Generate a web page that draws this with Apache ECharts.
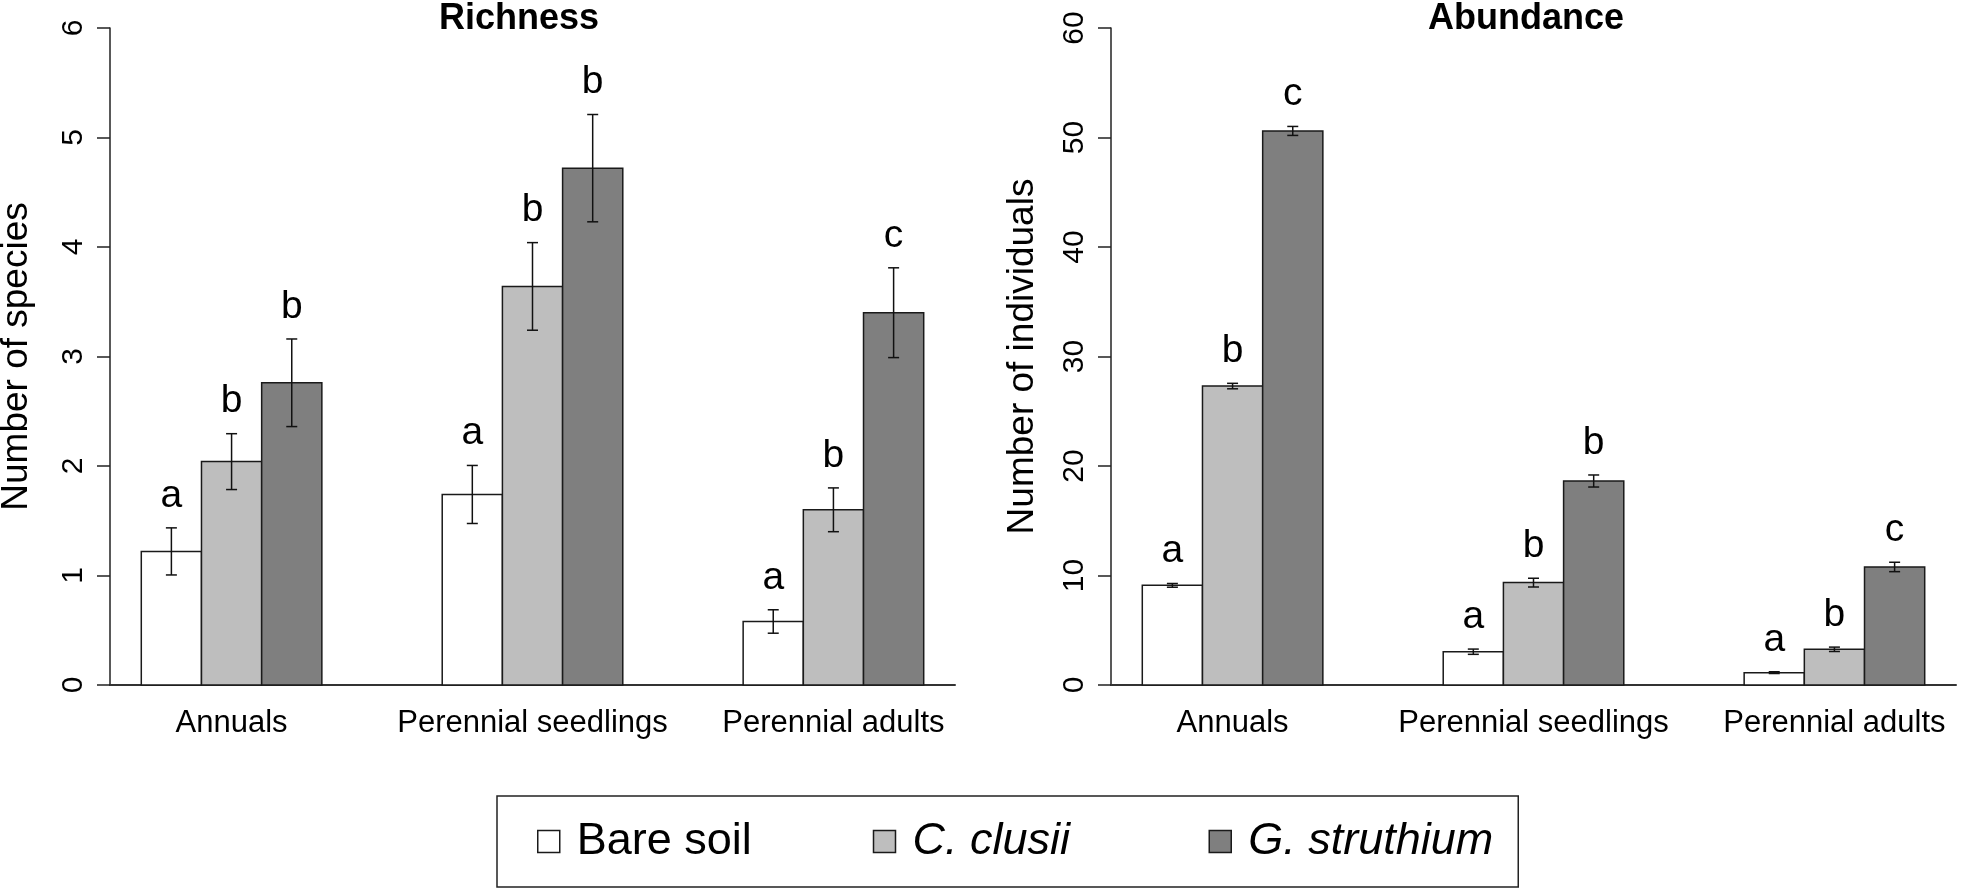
<!DOCTYPE html>
<html>
<head>
<meta charset="utf-8">
<script src="https://cdn.jsdelivr.net/npm/echarts@6/dist/echarts.min.js"></script>
<style>html,body{margin:0;padding:0;background:#fff}#c{width:1961px;height:891px}</style>
</head>
<body>
<div id="c"></div>
<script>
// ---- data ----
const categories = ['Annuals', 'Perennial seedlings', 'Perennial adults'];
const treatments = ['Bare soil', 'C. clusii', 'G. struthium'];

// rows = treatments, columns = categories
const richnessMeans = [[1.22, 1.74, 0.58], [2.04, 3.64, 1.60], [2.76, 4.72, 3.40]];
const richnessSE = [[0.215, 0.265, 0.107], [0.255, 0.40, 0.20], [0.40, 0.49, 0.41]];
const richnessLetters = [['a', 'a', 'a'], ['b', 'b', 'b'], ['b', 'b', 'c']];

const abundanceMeans = [[9.1, 3.04, 1.13], [27.3, 9.35, 3.26], [50.6, 18.63, 10.78]];
const abundanceSE = [[0.17, 0.24, 0.08], [0.25, 0.40, 0.20], [0.41, 0.55, 0.43]];
const abundanceLetters = [['a', 'a', 'a'], ['b', 'b', 'b'], ['c', 'b', 'c']];

const richnessTicks = [0, 1, 2, 3, 4, 5, 6];
const abundanceTicks = [0, 10, 20, 30, 40, 50, 60];

// ---- styling ----
const FONT = '"Liberation Sans", Arial, Helvetica, sans-serif';
const fills = ['#FFFFFF', '#BEBEBE', '#7F7F7F'];
const EDGE = '#1a1a1a';

function buildSeries(gi, means, ses, letters) {
  return treatments.map((name, t) => ({
    type: 'custom',
    name: name,
    xAxisIndex: gi,
    yAxisIndex: gi,
    itemStyle: { color: fills[t], borderColor: EDGE, borderWidth: 1.5 },
    data: categories.map((c, i) => [2.5 + 5 * i + t, means[t][i], ses[t][i]]),
    renderItem: function (params, api) {
      const x = api.value(0), v = api.value(1), se = api.value(2);
      const p0 = api.coord([x - 0.5, 0]);
      const p1 = api.coord([x + 0.5, v]);
      const up = api.coord([x, v + se]);
      const dn = api.coord([x, v - se]);
      const cx = api.coord([x, v])[0];
      const letter = letters[t][params.dataIndex];
      const ls = { stroke: '#111', lineWidth: 1.5 };
      return {
        type: 'group',
        children: [
          { type: 'rect', shape: { x: p0[0], y: p1[1], width: p1[0] - p0[0], height: p0[1] - p1[1] },
            style: { fill: fills[t], stroke: EDGE, lineWidth: 1.5 } },
          { type: 'line', shape: { x1: cx, y1: up[1], x2: cx, y2: dn[1] }, style: ls },
          { type: 'line', shape: { x1: cx - 5.5, y1: up[1], x2: cx + 5.5, y2: up[1] }, style: ls },
          { type: 'line', shape: { x1: cx - 5.5, y1: dn[1], x2: cx + 5.5, y2: dn[1] }, style: ls },
          { type: 'text', style: { text: letter, x: cx, y: up[1] - 32, align: 'center', verticalAlign: 'middle',
              fontSize: 39, fontFamily: FONT, fill: '#000' } }
        ]
      };
    }
  }));
}

function xAxisFor(gi) {
  return {
    gridIndex: gi, type: 'value', min: 1.48, max: 15.52,
    axisLine: { show: true, onZero: false, lineStyle: { color: '#333', width: 2 } },
    axisTick: { show: false },
    splitLine: { show: false },
    axisLabel: {
      customValues: [3.5, 8.5, 13.5],
      formatter: v => categories[Math.round((v - 3.5) / 5)],
      fontSize: 31, fontFamily: FONT, color: '#000', margin: 23
    }
  };
}

function yAxisFor(gi, ticks, name, gap) {
  return {
    gridIndex: gi, type: 'value',
    min: ticks[0], max: ticks[ticks.length - 1], interval: ticks[1] - ticks[0],
    axisLine: { show: true, lineStyle: { color: '#222', width: 1.5 } },
    axisTick: { show: true, length: 13, lineStyle: { color: '#222', width: 1.5 } },
    splitLine: { show: false },
    axisLabel: { rotate: 90, fontSize: 30, fontFamily: FONT, color: '#000', margin: 21 },
    name: name, nameLocation: 'middle', nameRotate: 90, nameGap: gap,
    nameTextStyle: { fontSize: 37, fontFamily: FONT, color: '#000' }
  };
}

const chart = echarts.init(document.getElementById('c'), null, { renderer: 'canvas' });
chart.setOption({
  animation: false,
  backgroundColor: '#fff',
  title: [
    { text: 'Richness', left: 519, top: 1, textAlign: 'center', padding: 0,
      textStyle: { fontSize: 36, fontWeight: 'bold', fontFamily: FONT, color: '#000' } },
    { text: 'Abundance', left: 1526, top: 1, textAlign: 'center', padding: 0,
      textStyle: { fontSize: 36, fontWeight: 'bold', fontFamily: FONT, color: '#000' } }
  ],
  grid: [
    { left: 110, top: 28, width: 845, height: 657, outerBoundsMode: 'none', containLabel: false },
    { left: 1111, top: 28, width: 845, height: 657, outerBoundsMode: 'none', containLabel: false }
  ],
  xAxis: [xAxisFor(0), xAxisFor(1)],
  yAxis: [
    yAxisFor(0, richnessTicks, 'Number of species', 75),
    yAxisFor(1, abundanceTicks, 'Number of individuals', 70)
  ],
  legend: {
    left: 497, top: 796, orient: 'horizontal',
    padding: [23, 14, 23, 40], itemGap: 38, itemWidth: 22, itemHeight: 22,
    borderColor: '#222', borderWidth: 1.5,
    icon: 'rect', selectedMode: false,
    itemStyle: { borderColor: EDGE, borderWidth: 1.5 },
    textStyle: { fontSize: 45, lineHeight: 45, fontFamily: FONT, color: '#000', padding: [0, 0, 0, 12] },
    data: [
      { name: 'Bare soil', textStyle: { width: 258 } },
      { name: 'C. clusii', textStyle: { width: 258, fontStyle: 'italic' } },
      { name: 'G. struthium', textStyle: { width: 256, fontStyle: 'italic' } }
    ]
  },
  series: [].concat(
    buildSeries(0, richnessMeans, richnessSE, richnessLetters),
    buildSeries(1, abundanceMeans, abundanceSE, abundanceLetters)
  )
});
</script>
</body>
</html>
